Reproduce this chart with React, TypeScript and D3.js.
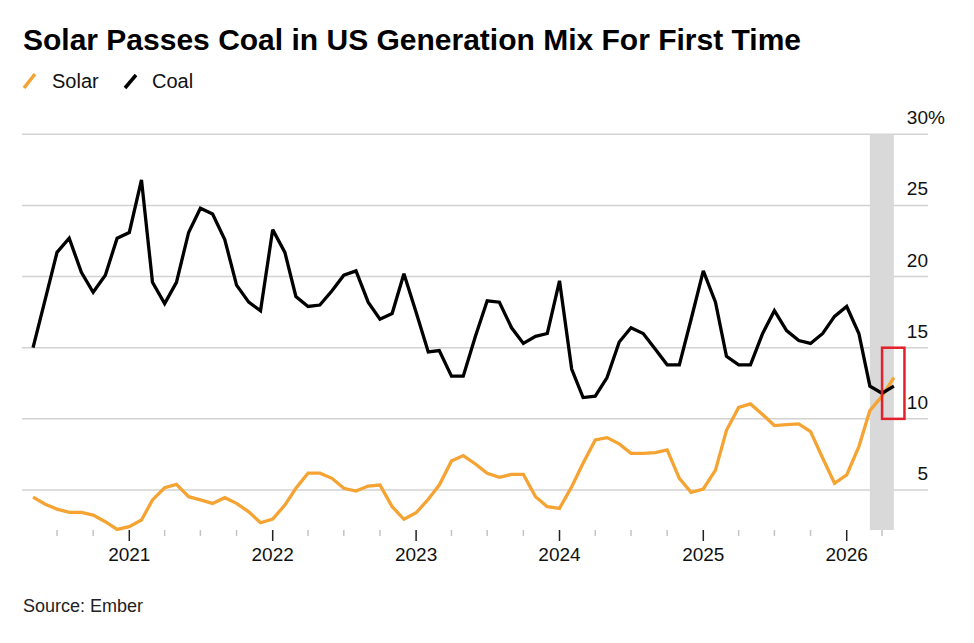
import React from "react";
import * as d3 from "d3";

const months: string[] = [
  "2020-05","2020-06","2020-07","2020-08","2020-09","2020-10","2020-11","2020-12",
  "2021-01","2021-02","2021-03","2021-04","2021-05","2021-06","2021-07","2021-08","2021-09","2021-10","2021-11","2021-12",
  "2022-01","2022-02","2022-03","2022-04","2022-05","2022-06","2022-07","2022-08","2022-09","2022-10","2022-11","2022-12",
  "2023-01","2023-02","2023-03","2023-04","2023-05","2023-06","2023-07","2023-08","2023-09","2023-10","2023-11","2023-12",
  "2024-01","2024-02","2024-03","2024-04","2024-05","2024-06","2024-07","2024-08","2024-09","2024-10","2024-11","2024-12",
  "2025-01","2025-02","2025-03","2025-04","2025-05","2025-06","2025-07","2025-08","2025-09","2025-10","2025-11","2025-12",
  "2026-01","2026-02","2026-03","2026-04","2026-05",
];

const coal: number[] = [
  15.0, 18.4, 21.7, 22.7, 20.3, 18.9, 20.1, 22.7,
  23.1, 26.8, 19.6, 18.1, 19.6, 23.1, 24.8, 24.4, 22.6, 19.4, 18.2, 17.6,
  23.3, 21.7, 18.6, 17.9, 18.0, 19.0, 20.1, 20.4, 18.2, 17.0, 17.4, 20.2,
  17.5, 14.7, 14.8, 13.0, 13.0, 15.8, 18.3, 18.2, 16.4, 15.3, 15.8, 16.0,
  19.7, 13.5, 11.5, 11.6, 12.9, 15.4, 16.4, 16.0, 14.9, 13.8, 13.8, 17.0,
  20.4, 18.2, 14.4, 13.8, 13.8, 16.0, 17.6, 16.2, 15.5, 15.3, 16.0, 17.2,
  17.9, 16.0, 12.3, 11.8, 12.3,
];

const solar: number[] = [
  4.5, 4.0, 3.66, 3.43, 3.43, 3.24, 2.77, 2.23,
  2.42, 2.89, 4.3, 5.16, 5.4, 4.53, 4.3, 4.06, 4.46, 4.06, 3.47, 2.7,
  2.96, 3.94, 5.12, 6.18, 6.18, 5.82, 5.12, 4.93, 5.28, 5.35, 3.83, 2.94,
  3.4, 4.35, 5.35, 7.04, 7.42, 6.83, 6.18, 5.89, 6.1, 6.1, 4.53, 3.83,
  3.71, 5.23, 6.88, 8.52, 8.68, 8.24, 7.58, 7.58, 7.63, 7.82, 5.82, 4.84,
  5.07, 6.4, 9.2, 10.8, 11.05, 10.3, 9.53, 9.6, 9.65, 9.1, 7.23, 5.47,
  6.06, 8.05, 10.58, 11.6, 12.9,
];

const yTicks: number[] = [5, 10, 15, 20, 25, 30];
const yearTicks: string[] = ["2021", "2022", "2023", "2024", "2025", "2026"];
const bandRange: string[] = ["2026-03-01", "2026-05-01"];
const boxRange: string[] = ["2026-04-01", "2026-05-28"];
const boxValues: number[] = [10, 15];

const title = "Solar Passes Coal in US Generation Mix For First Time";
const source = "Source: Ember";

const SOLAR_COLOR = "#f5a332";
const COAL_COLOR = "#000000";
const FONT = "'Liberation Sans', Arial, Helvetica, sans-serif";

export default function App() {
  const W = 974;
  const H = 643;
  const parseM = d3.timeParse("%Y-%m");
  const parseD = d3.timeParse("%Y-%m-%d");
  const dates = months.map((m) => parseM(m) as Date);

  const x = d3
    .scaleTime()
    .domain([new Date(2021, 0, 1), new Date(2026, 0, 1)])
    .range([129.3, 846.7]);
  const y = d3.scaleLinear().domain([5, 30]).range([490, 134.3]);

  const plotLeft = 22;
  const plotRight = 928;
  const plotBottom = 530;

  const line = d3
    .line<number>()
    .x((_, i) => x(dates[i]))
    .y((v) => y(v));

  const quarterTicks = d3
    .timeMonth
    .every(3)!
    .range(new Date(2020, 6, 1), new Date(2026, 4, 1));

  const bx0 = x(parseD(bandRange[0]) as Date);
  const bx1 = x(parseD(bandRange[1]) as Date);
  const rx0 = x(parseD(boxRange[0]) as Date);
  const rx1 = x(parseD(boxRange[1]) as Date);

  return (
    <svg
      width={W}
      height={H}
      style={{ position: "absolute", left: 0, top: 0, background: "#fff" }}
      fontFamily={FONT}
    >
      <rect x={0} y={0} width={W} height={H} fill="#fff" />
      <text x={23} y={50} fontSize={30} fontWeight="bold" fill="#000">
        {title}
      </text>

      {/* legend */}
      <line x1={24} y1={88} x2={35} y2={74} stroke={SOLAR_COLOR} strokeWidth={3.5} />
      <text x={52} y={88} fontSize={20} fill="#111">Solar</text>
      <line x1={125} y1={88} x2={136} y2={75} stroke={COAL_COLOR} strokeWidth={3.5} />
      <text x={152} y={88} fontSize={20} fill="#111">Coal</text>

      {/* gridlines */}
      {yTicks.map((t) => (
        <line
          key={"g" + t}
          x1={plotLeft}
          x2={plotRight}
          y1={y(t)}
          y2={y(t)}
          stroke="#d2d2d2"
          strokeWidth={1.5}
        />
      ))}

      {/* highlight band */}
      <rect x={bx0} y={y(30)} width={bx1 - bx0} height={plotBottom - y(30)} fill="#d9d9d9" />

      {/* y labels */}
      {yTicks.map((t) => (
        <g key={"l" + t}>
          <text x={plotRight} y={y(t) - 10} fontSize={19} textAnchor="end" fill="#111">
            {t}
          </text>
          {t === 30 ? (
            <text x={plotRight} y={y(t) - 10} fontSize={19} textAnchor="start" fill="#111">
              %
            </text>
          ) : null}
        </g>
      ))}

      {/* x ticks */}
      {quarterTicks.map((d, i) => {
        const major = d.getMonth() === 0;
        return (
          <line
            key={"t" + i}
            x1={x(d)}
            x2={x(d)}
            y1={plotBottom}
            y2={major ? plotBottom + 11 : plotBottom + 6}
            stroke={major ? "#222" : "#c4c4c4"}
            strokeWidth={1.5}
          />
        );
      })}
      {yearTicks.map((yr) => (
        <text
          key={"y" + yr}
          x={x(new Date(+yr, 0, 1))}
          y={560.5}
          fontSize={19}
          textAnchor="middle"
          fill="#111"
        >
          {yr}
        </text>
      ))}

      {/* series */}
      <path
        d={line(solar) || ""}
        fill="none"
        stroke={SOLAR_COLOR}
        strokeWidth={3.3}
        strokeLinejoin="miter"
        strokeMiterlimit={3}
      />
      <path
        d={line(coal) || ""}
        fill="none"
        stroke={COAL_COLOR}
        strokeWidth={3.3}
        strokeLinejoin="miter"
        strokeMiterlimit={3}
      />

      {/* annotation box */}
      <rect
        x={rx0}
        y={y(boxValues[1])}
        width={rx1 - rx0}
        height={y(boxValues[0]) - y(boxValues[1])}
        fill="none"
        stroke="#e3202b"
        strokeWidth={2.5}
      />

      <text x={23} y={611.5} fontSize={18} fill="#222">
        {source}
      </text>
    </svg>
  );
}
